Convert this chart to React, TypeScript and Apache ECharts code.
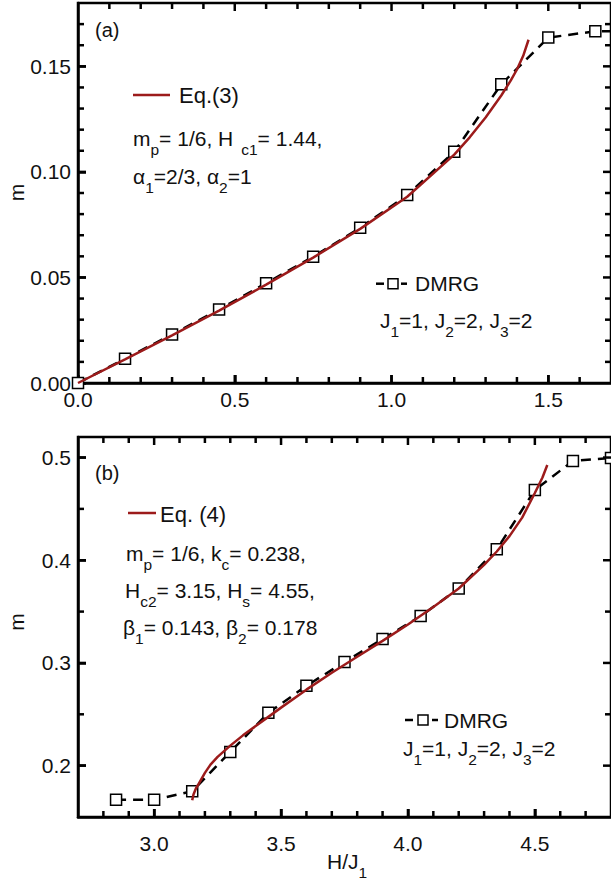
import React, { useEffect, useRef } from "react";
import * as echarts from "echarts";

const FONT = '"Liberation Sans", Arial, Helvetica, sans-serif';
const RED = "#9c1b1b";
const INK = "#111111";

// ---- panel (a) data ----
const dmrgA_H = [0, 0.15, 0.3, 0.45, 0.6, 0.75, 0.9, 1.05, 1.2, 1.35, 1.5, 1.65, 1.8];
const dmrgA_m = [0, 0.0115, 0.023, 0.0348, 0.0473, 0.0598, 0.0735, 0.089, 0.1095, 0.1415, 0.1636, 0.1666, 0.1667];
const eq3_H = [0, 0.15, 0.3, 0.45, 0.6, 0.75, 0.9, 1.05, 1.2, 1.25, 1.3, 1.35, 1.38, 1.4, 1.42, 1.437];
const eq3_m = [0, 0.0112, 0.0226, 0.0343, 0.0466, 0.0594, 0.073, 0.0882, 0.1082, 0.1165, 0.1258, 0.1362, 0.1432, 0.1485, 0.155, 0.1626];

// ---- panel (b) data ----
const dmrgB_H = [2.85, 3.0, 3.15, 3.3, 3.45, 3.6, 3.75, 3.9, 4.05, 4.2, 4.35, 4.5, 4.65, 4.8];
const dmrgB_m = [0.1667, 0.1667, 0.175, 0.2134, 0.2514, 0.2777, 0.301, 0.3232, 0.3456, 0.3726, 0.4106, 0.4684, 0.4967, 0.4995];
const eq4_H = [3.15, 3.155, 3.165, 3.176, 3.2, 3.222, 3.25, 3.3, 3.35, 3.4, 3.45, 3.5, 3.6, 3.7, 3.8, 3.9, 4.0, 4.1, 4.2, 4.3, 4.35, 4.4, 4.45, 4.5, 4.53, 4.549];
const eq4_m = [0.1663, 0.172, 0.178, 0.1825, 0.193, 0.201, 0.2085, 0.2195, 0.2295, 0.2385, 0.2475, 0.2565, 0.274, 0.2905, 0.306, 0.3215, 0.3375, 0.3545, 0.3725, 0.3955, 0.4085, 0.4235, 0.4415, 0.4655, 0.4805, 0.4928];

// ---- axis ranges ----
const aXRange = [0, 1.7];
const aYRange = [0, 0.18];
const bXRange = [2.7, 4.8];
const bYRange = [0.15, 0.52];

// ---- tick labels ----
const aXLabels = [0, 0.5, 1.0, 1.5];
const aYLabels = [0, 0.05, 0.1, 0.15];
const bXLabels = [3.0, 3.5, 4.0, 4.5];
const bYLabels = [0.2, 0.3, 0.4, 0.5];

// ---- tick marks (major / minor) ----
const aXMajorTicks = [0.5, 1.0, 1.5];
const aXMinorTicks = [0.1, 0.2, 0.3, 0.4, 0.6, 0.7, 0.8, 0.9, 1.1, 1.2, 1.3, 1.4, 1.6];
const aYMajorTicks = [0.05, 0.1, 0.15];
const aYMinorTicks = [0.01, 0.02, 0.03, 0.04, 0.06, 0.07, 0.08, 0.09, 0.11, 0.12, 0.13, 0.14, 0.16, 0.17];
const bXMajorTicks = [3.0, 3.5, 4.0, 4.5];
const bXMinorTicks = [2.8, 2.9, 3.1, 3.2, 3.3, 3.4, 3.6, 3.7, 3.8, 3.9, 4.1, 4.2, 4.3, 4.4, 4.6, 4.7];
const bYMajorTicks = [0.2, 0.3, 0.4, 0.5];
const bYMinorTicks = [0.25, 0.35, 0.45];

const MAJOR_LEN = 8;
const MINOR_LEN = 6;
const TICK_W = 2.5;

// grid boxes (layout only)
const GRIDS = [
  { left: 78, top: 3, width: 535, height: 380 },
  { left: 78, top: 437, width: 535, height: 380 },
];

const zip = (xs: number[], ys: number[]) => xs.map((x, i) => [x, ys[i]]);

function valueAxis(grid: number, range: number[], pos: string, labels: number[], margin: number, digits: number) {
  return {
    type: "value",
    gridIndex: grid,
    position: pos,
    min: range[0],
    max: range[1],
    splitLine: { show: false },
    axisLine: { show: true, onZero: false, lineStyle: { color: "#000", width: 2.5 } },
    axisTick: {
      show: true,
      inside: true,
      length: MAJOR_LEN,
      customValues: labels,
      lineStyle: { color: "#000", width: TICK_W },
    },
    axisLabel: {
      show: true,
      customValues: labels,
      margin,
      fontSize: 21,
      fontFamily: FONT,
      color: INK,
      formatter: (v: number) => v.toFixed(digits),
    },
  };
}

const subStyle = (pad = 0) => ({ fontSize: 15.5, fontFamily: FONT, color: INK, padding: [22, 0, 0, pad] });
const mainStyle = { fontSize: 21, fontFamily: FONT, color: INK };

function richText(x: number, y: number, text: string) {
  return {
    type: "text",
    x,
    y,
    style: {
      text,
      align: "left",
      verticalAlign: "middle",
      fill: INK,
      font: `21px ${FONT}`,
      rich: { a: mainStyle, s: subStyle(0), t: subStyle(8) },
    },
    z: 100,
  };
}

function plainText(x: number, y: number, text: string, size: number, rotation = 0, align = "left") {
  return {
    type: "text",
    x,
    y,
    rotation,
    style: { text, align, verticalAlign: "middle", fill: INK, fontSize: size, fontFamily: FONT },
    z: 100,
  };
}

function seg(x1: number, y1: number, x2: number, y2: number, color: string, w = 2.5) {
  return { type: "line", shape: { x1, y1, x2, y2 }, style: { stroke: color, lineWidth: w }, z: 100 };
}

function box(x: number, y: number) {
  return { type: "rect", shape: { x, y, width: 10, height: 10 }, style: { fill: "#fff", stroke: "#000", lineWidth: 1.5 }, z: 100 };
}

const annotations = [
  // panel (a)
  plainText(95, 30, "(a)", 20),
  seg(133, 95, 170, 95, RED),
  plainText(179, 95, "Eq.(3)", 22),
  richText(133, 138, "{a|m}{s|p}{a|= 1/6, H}{t|c1}{a|= 1.44,}"),
  richText(133, 176.5, "{a|α}{s|1}{a|=2/3, α}{s|2}{a|=1}"),
  seg(376, 283.7, 384, 283.7, "#000"),
  box(388, 278.7),
  seg(401, 283.7, 407, 283.7, "#000"),
  plainText(415, 283.7, "DMRG", 21),
  richText(380, 320.7, "{a|J}{s|1}{a|=1, J}{s|2}{a|=2, J}{s|3}{a|=2}"),
  plainText(16.5, 192.5, "m", 21, Math.PI / 2, "center"),
  // panel (b)
  plainText(95, 473, "(b)", 20),
  seg(128, 513, 156, 513, RED),
  plainText(160, 514, "Eq. (4)", 22),
  richText(126, 553.5, "{a|m}{s|p}{a|= 1/6, k}{s|c}{a|= 0.238,}"),
  richText(125, 590.5, "{a|H}{s|c2}{a|= 3.15, H}{s|s}{a|= 4.55,}"),
  richText(123, 627.5, "{a|β}{s|1}{a|= 0.143, β}{s|2}{a|= 0.178}"),
  seg(405, 720, 413, 720, "#000"),
  box(418, 715),
  seg(432, 720, 438, 720, "#000"),
  plainText(444, 720, "DMRG", 21),
  richText(403, 748, "{a|J}{s|1}{a|=1, J}{s|2}{a|=2, J}{s|3}{a|=2}"),
  plainText(16.5, 622, "m", 21, Math.PI / 2, "center"),
  richText(327, 861.5, "{a|H/J}{s|1}"),
];

// tick marks on all four sides; position from the chart's own conversion, with a layout fallback
function tickMarks(
  chart: any,
  grid: number,
  xr: number[],
  yr: number[],
  xMaj: number[],
  xMin: number[],
  yMaj: number[],
  yMin: number[]
) {
  const out: any[] = [];
  const g = GRIDS[grid];
  const P = (x: number, y: number): number[] => {
    let p: any = null;
    try {
      p = chart.convertToPixel({ xAxisIndex: grid, yAxisIndex: grid }, [x, y]);
    } catch (e) {
      p = null;
    }
    if (p && isFinite(p[0]) && isFinite(p[1])) return [p[0], p[1]];
    return [
      g.left + ((x - xr[0]) / (xr[1] - xr[0])) * g.width,
      g.top + g.height - ((y - yr[0]) / (yr[1] - yr[0])) * g.height,
    ];
  };
  const addX = (v: number, len: number) => {
    const a = P(v, yr[0]);
    const b = P(v, yr[1]);
    out.push(seg(a[0], a[1], a[0], a[1] - len, "#000", TICK_W));
    out.push(seg(b[0], b[1], b[0], b[1] + len, "#000", TICK_W));
  };
  const addY = (v: number, len: number) => {
    const a = P(xr[0], v);
    const b = P(xr[1], v);
    out.push(seg(a[0], a[1], a[0] + len, a[1], "#000", TICK_W));
    out.push(seg(b[0], b[1], b[0] - len, b[1], "#000", TICK_W));
  };
  xMaj.forEach((v) => addX(v, MAJOR_LEN));
  xMin.forEach((v) => addX(v, MINOR_LEN));
  yMaj.forEach((v) => addY(v, MAJOR_LEN));
  yMin.forEach((v) => addY(v, MINOR_LEN));
  return out;
}

export default function App() {
  const ref = useRef<HTMLDivElement>(null);
  useEffect(() => {
    if (!ref.current) return;
    const chart = echarts.init(ref.current, undefined, { renderer: "svg" });
    const dmrgStyle = {
      type: "line",
      symbol: "rect",
      symbolSize: 11,
      itemStyle: { color: "#fff", borderColor: "#000", borderWidth: 1.5 },
      lineStyle: { color: "#000", width: 2.5, type: [10, 7] },
      clip: true,
      z: 2,
    };
    const eqStyle = {
      type: "line",
      showSymbol: false,
      symbol: "none",
      smooth: false,
      lineStyle: { color: RED, width: 2.5 },
      clip: true,
      z: 3,
    };
    const gridBox = { show: true, borderColor: "#000", borderWidth: 2.5, backgroundColor: "transparent" };
    chart.setOption({
      animation: false,
      backgroundColor: "#fff",
      grid: GRIDS.map((g) => ({ ...gridBox, ...g })),
      xAxis: [
        valueAxis(0, aXRange, "bottom", aXLabels, 6, 1),
        valueAxis(1, bXRange, "bottom", bXLabels, 16, 1),
      ],
      yAxis: [
        valueAxis(0, aYRange, "left", aYLabels, 7, 2),
        valueAxis(1, bYRange, "left", bYLabels, 7, 1),
      ],
      series: [
        { ...dmrgStyle, name: "DMRG a", xAxisIndex: 0, yAxisIndex: 0, data: zip(dmrgA_H, dmrgA_m) },
        { ...eqStyle, name: "Eq.(3)", xAxisIndex: 0, yAxisIndex: 0, data: zip(eq3_H, eq3_m) },
        { ...dmrgStyle, name: "DMRG b", xAxisIndex: 1, yAxisIndex: 1, data: zip(dmrgB_H, dmrgB_m) },
        { ...eqStyle, name: "Eq. (4)", xAxisIndex: 1, yAxisIndex: 1, data: zip(eq4_H, eq4_m) },
      ],
    });
    const ticks = [
      ...tickMarks(chart, 0, aXRange, aYRange, aXMajorTicks, aXMinorTicks, aYMajorTicks, aYMinorTicks),
      ...tickMarks(chart, 1, bXRange, bYRange, bXMajorTicks, bXMinorTicks, bYMajorTicks, bYMinorTicks),
    ];
    chart.setOption({ graphic: [...annotations, ...ticks] });
    return () => chart.dispose();
  }, []);
  return (
    <div
      ref={ref}
      style={{ position: "fixed", left: 0, top: 0, width: 611, height: 890, background: "#fff" }}
    />
  );
}
